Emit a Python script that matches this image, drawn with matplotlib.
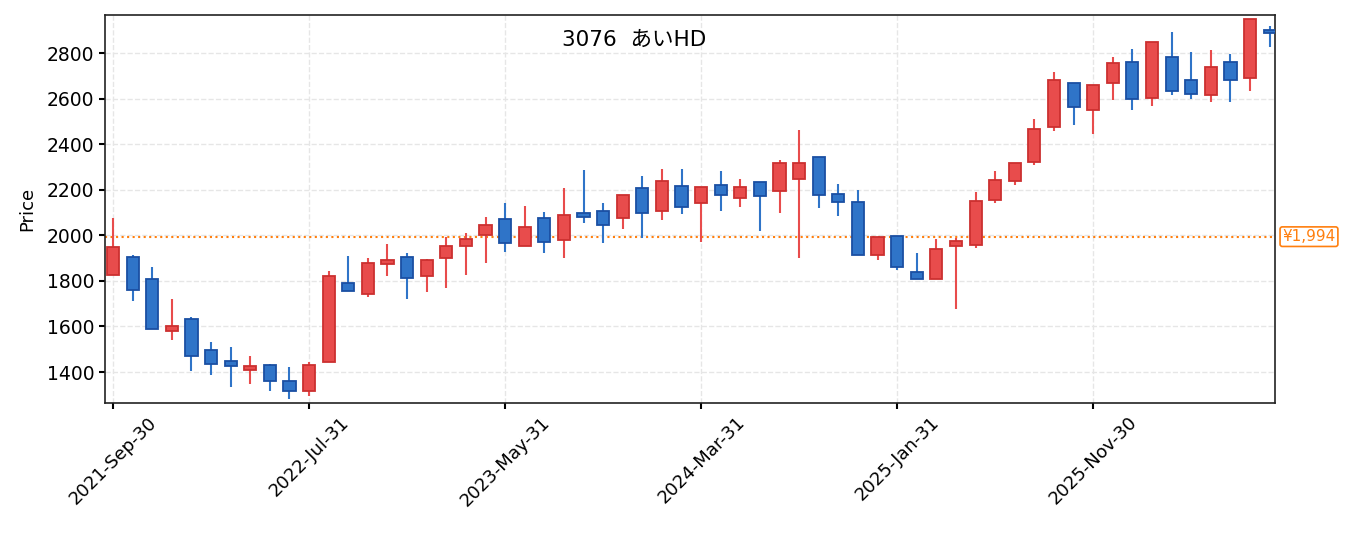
import matplotlib
matplotlib.use("Agg")
import matplotlib.pyplot as plt
from matplotlib.patches import Rectangle
import numpy as np

plt.rcParams['font.family'] = ['DejaVu Sans', 'Noto Sans CJK JP']

# monthly candles, 2021-Sep .. 2026-Aug
opens = [1826, 1906, 1807, 1580, 1631, 1495, 1450, 1409, 1429, 1362,
         1317, 1442, 1789, 1741, 1873, 1903, 1820, 1899, 1952, 2000,
         2070, 1952, 2075, 1979, 2096, 2105, 2075, 2209, 2107, 2218,
         2142, 2222, 2163, 2235, 2194, 2246, 2345, 2183, 2147, 1913,
         1998, 1839, 1807, 1953, 1956, 2155, 2237, 2320, 2474, 2670,
         2550, 2668, 2762, 2601, 2784, 2683, 2614, 2762, 2689, 2902]
closes = [1950, 1760, 1589, 1600, 1470, 1435, 1426, 1425, 1360, 1317,
          1429, 1823, 1755, 1877, 1890, 1811, 1890, 1954, 1982, 2046,
          1965, 2038, 1970, 2090, 2082, 2044, 2178, 2096, 2240, 2124,
          2213, 2176, 2213, 2171, 2319, 2316, 2176, 2146, 1913, 1994,
          1861, 1808, 1941, 1976, 2152, 2244, 2319, 2468, 2683, 2563,
          2661, 2758, 2598, 2850, 2633, 2620, 2740, 2682, 2951, 2888]
highs = [2077, 1913, 1861, 1720, 1640, 1532, 1510, 1470, 1435, 1422,
         1442, 1843, 1909, 1900, 1962, 1922, 1896, 1992, 2010, 2080,
         2142, 2129, 2102, 2208, 2287, 2142, 2178, 2260, 2291, 2291,
         2213, 2282, 2247, 2235, 2330, 2462, 2345, 2225, 2199, 1994,
         1998, 1922, 1984, 1989, 2190, 2282, 2319, 2510, 2717, 2670,
         2661, 2783, 2818, 2850, 2892, 2804, 2813, 2796, 2951, 2919]
lows = [1826, 1713, 1589, 1542, 1406, 1388, 1336, 1349, 1318, 1283,
        1296, 1442, 1754, 1731, 1821, 1722, 1751, 1770, 1826, 1878,
        1927, 1952, 1924, 1902, 2055, 1967, 2029, 1989, 2067, 2095,
        1971, 2108, 2124, 2019, 2099, 1902, 2121, 2086, 1913, 1890,
        1849, 1808, 1807, 1678, 1946, 2143, 2222, 2310, 2459, 2484,
        2446, 2595, 2551, 2569, 2617, 2600, 2586, 2586, 2635, 2828]
tick_idx = [0, 10, 20, 30, 40, 50]
tick_labels = ['2021-Sep-30', '2022-Jul-31', '2023-May-31',
               '2024-Mar-31', '2025-Jan-31', '2025-Nov-30']
ref_price = 1994
title = '3076  あいHD'

fig = plt.figure(figsize=(13.55, 5.33), dpi=100)
ax = fig.add_axes([0.0775, 0.2439, 0.8637, 0.728])

w = 0.62
for i in range(len(opens)):
    o, c, h, l = opens[i], closes[i], highs[i], lows[i]
    if c >= o:
        fc, ec = '#e84c4c', '#cc3030'
    else:
        fc, ec = '#2f74c8', '#1a4fa3'
    ax.vlines(i, l, h, color=fc, linewidth=1.5, zorder=2)
    ax.add_patch(Rectangle((i - w / 2, min(o, c)), w, max(abs(c - o), 3),
                           facecolor=fc, edgecolor=ec, linewidth=1.3, zorder=3))

ax.axhline(ref_price, color='#ff7f0e', linestyle=':', linewidth=1.5, zorder=1)
ax.text(1.006, ref_price, '¥{:,}'.format(ref_price), transform=ax.get_yaxis_transform(),
        color='#ff7f0e', fontsize=11, va='center', ha='left',
        bbox=dict(boxstyle='round,pad=0.15', facecolor='white', edgecolor='#ff7f0e', linewidth=1.2))

ax.set_xlim(-0.41, 59.29)
ax.set_ylim(1264, 2967)
ax.set_yticks(np.arange(1400, 2801, 200))
ax.set_xticks(tick_idx)
ax.set_xticklabels(tick_labels, rotation=45, fontsize=13)
ax.tick_params(axis='y', labelsize=13.5)
ax.tick_params(axis='both', width=1.5, length=4)
ax.grid(True, linestyle='--', color='#e6e6e6', linewidth=1)
ax.set_axisbelow(True)
for s in ax.spines.values():
    s.set_linewidth(1.2)
    s.set_color('#222222')
ax.set_ylabel('Price', fontsize=13, labelpad=8)
ax.text(0.452, 0.937, title, transform=ax.transAxes, ha='center', va='center', fontsize=15.5)

fig.savefig('out.png', dpi=100)
